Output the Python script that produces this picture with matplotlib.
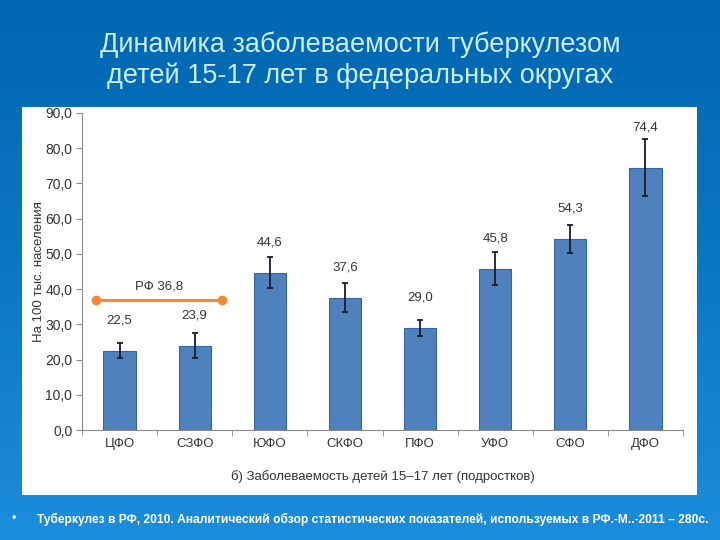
import numpy as np
import matplotlib.pyplot as plt
from matplotlib.patches import Rectangle
from matplotlib.colors import LinearSegmentedColormap

# data
districts = ['ЦФО', 'СЗФО', 'ЮФО', 'СКФО', 'ПФО', 'УФО', 'СФО', 'ДФО']
rates = [22.5, 23.9, 44.6, 37.6, 29.0, 45.8, 54.3, 74.4]
errors = [2.2, 3.6, 4.4, 4.2, 2.3, 4.6, 4.0, 8.1]
rf_value = 36.8
rf_label = 'РФ 36,8'

title = 'Динамика заболеваемости туберкулезом\nдетей 15-17 лет в федеральных округах'
ylabel = 'На 100 тыс. населения'
xlabel = 'б) Заболеваемость детей 15–17 лет (подростков)'
source = 'Туберкулез в РФ, 2010. Аналитический обзор статистических показателей, используемых в РФ.-М..-2011 – 280с.'

plt.rcParams['font.family'] = ['Liberation Sans', 'DejaVu Sans']

fig = plt.figure(figsize=(7.2, 5.4), dpi=100)

# blue slide background
bg = fig.add_axes([0, 0, 1, 1])
grad = np.linspace(0, 1, 256).reshape(-1, 1)
cmap = LinearSegmentedColormap.from_list('slide', ['#0066b0', '#0a78c4', '#1c8ddc'])
bg.imshow(grad, aspect='auto', cmap=cmap, extent=[0, 1, 0, 1], origin='upper')
bg.set_xlim(0, 1)
bg.set_ylim(0, 1)
bg.axis('off')

# white panel
fig.patches.append(Rectangle((22 / 720, 45 / 540), 675 / 720, 388 / 540,
                             transform=fig.transFigure, facecolor='white',
                             edgecolor='none', zorder=1))

fig.text(0.5, 0.888, title, ha='center', va='center', color='#cdeeff',
         fontsize=19.5, linespacing=1.2)

fig.text(0.016, 0.038, '•', ha='left', va='center', color='white', fontsize=9)
fig.text(0.051, 0.038, source, ha='left', va='center', color='white',
         fontsize=8.65, fontweight='bold')

ax = fig.add_axes([82 / 720, 110 / 540, 601 / 720, 317 / 540])
ax.set_zorder(2)
ax.patch.set_alpha(0)

x = np.arange(len(districts))
ax.bar(x, rates, width=0.43, color='#4f81bd', edgecolor='#34679f', linewidth=0.8, zorder=2)
ax.errorbar(x, rates, yerr=errors, fmt='none', ecolor='#1a1a2e', elinewidth=1.3,
            capsize=2.5, capthick=1.3, zorder=3)

for xi, v, e in zip(x, rates, errors):
    ax.text(xi, max(v + 8.5, v + e + 3.5), f'{v:.1f}'.replace('.', ','),
            ha='center', va='center', fontsize=9.5, color='#333333')

# РФ average line
ax.plot([-0.31, 1.36], [rf_value, rf_value], color='#ee8a35', linewidth=2.2,
        marker='o', markersize=6, zorder=4)
ax.text(0.53, rf_value + 2.2, rf_label, ha='center', va='bottom', fontsize=9.5, color='#333333')

ax.set_xlim(-0.5, len(districts) - 0.5)
ax.set_ylim(0, 90)
ax.set_yticks(np.arange(0, 91, 10))
ax.set_yticklabels([f'{t:.1f}'.replace('.', ',') for t in np.arange(0, 91, 10)],
                   fontsize=10, color='#333333')
ax.set_xticks(x)
ax.set_xticklabels(districts, fontsize=9.5, color='#333333')
ax.set_xticks(np.arange(-0.5, len(districts), 1), minor=True)
ax.tick_params(axis='x', which='major', length=0, pad=6)
ax.tick_params(axis='x', which='minor', length=4, color='#888888')
ax.tick_params(axis='y', length=4, color='#888888', direction='out', pad=3)

for s in ['top', 'right']:
    ax.spines[s].set_visible(False)
ax.spines['left'].set_color('#888888')
ax.spines['bottom'].set_color('#888888')

ax.set_ylabel(ylabel, fontsize=9.5, color='#333333', labelpad=0)
ax.set_xlabel(xlabel, fontsize=9.5, color='#333333', labelpad=14)

fig.savefig('out.png', dpi=100)
